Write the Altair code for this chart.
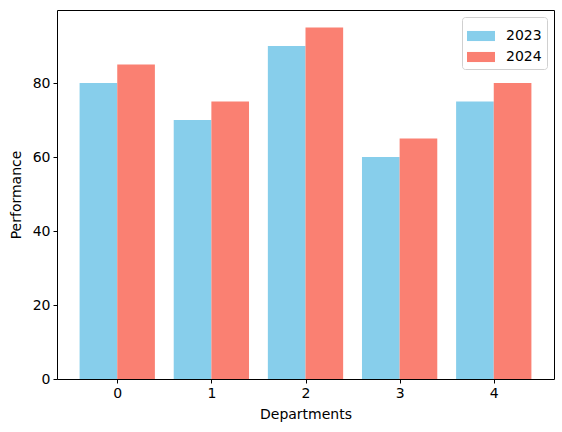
import altair as alt
import pandas as pd

# Department performance by year
departments = [0, 1, 2, 3, 4]
perf_2023 = [80, 70, 90, 60, 75]
perf_2024 = [85, 75, 95, 65, 80]
years = ["2023", "2024"]
colors = ["#87CEEB", "#FA8072"]
x_ticks = [0, 1, 2, 3, 4]
y_ticks = [0, 20, 40, 60, 80]

df = pd.DataFrame(
    [{"dept": d, "year": years[0], "value": v} for d, v in zip(departments, perf_2023)]
    + [{"dept": d, "year": years[1], "value": v} for d, v in zip(departments, perf_2024)]
)

FONT = "DejaVu Sans"

bars = (
    alt.Chart(df)
    .transform_calculate(
        x0="datum.dept + (datum.year == '2023' ? -0.4 : 0)",
        x1="datum.dept + (datum.year == '2023' ? 0 : 0.4)",
    )
    .mark_bar(stroke=None)
    .encode(
        x=alt.X(
            "x0:Q",
            scale=alt.Scale(domain=[-0.64, 4.64], nice=False, zero=False),
            axis=alt.Axis(values=x_ticks, format="d", title="Departments",
                          titlePadding=7),
        ),
        x2="x1:Q",
        y=alt.Y(
            "value:Q",
            scale=alt.Scale(domain=[0, 99.75], nice=False),
            axis=alt.Axis(values=y_ticks, title="Performance", titlePadding=9),
        ),
        y2=alt.datum(0),
        color=alt.Color(
            "year:N",
            scale=alt.Scale(domain=years, range=colors),
            title=None,
            legend=alt.Legend(
                orient="top-right",
                offset=7,
                symbolType="M-1,-0.36L1,-0.36L1,0.36L-1,0.36Z",
                symbolSize=784,
                symbolStrokeWidth=0,
                labelFontSize=14,
                labelFont=FONT,
                labelColor="black",
                labelOffset=11,
                rowPadding=-2,
                padding=5,
                strokeColor="#d0d0d0",
                cornerRadius=3,
                fillColor="white",
            ),
        ),
    )
)

chart = (
    bars.properties(
        width=497,
        height=369,
        autosize=alt.AutoSizeParams(type="none"),
        padding={"left": 57, "top": 10, "right": 8, "bottom": 53},
    )
    .configure_view(stroke="black", strokeWidth=1)
    .configure_axis(
        grid=False,
        domain=False,
        tickColor="black",
        tickSize=4,
        tickWidth=1,
        labelFont=FONT,
        labelFontSize=14,
        labelColor="black",
        labelPadding=3,
        titleFont=FONT,
        titleFontSize=14,
        titleFontWeight="normal",
        titleColor="black",
    )
)

chart.save("out.html", embed_options={"renderer": "svg", "actions": False})
